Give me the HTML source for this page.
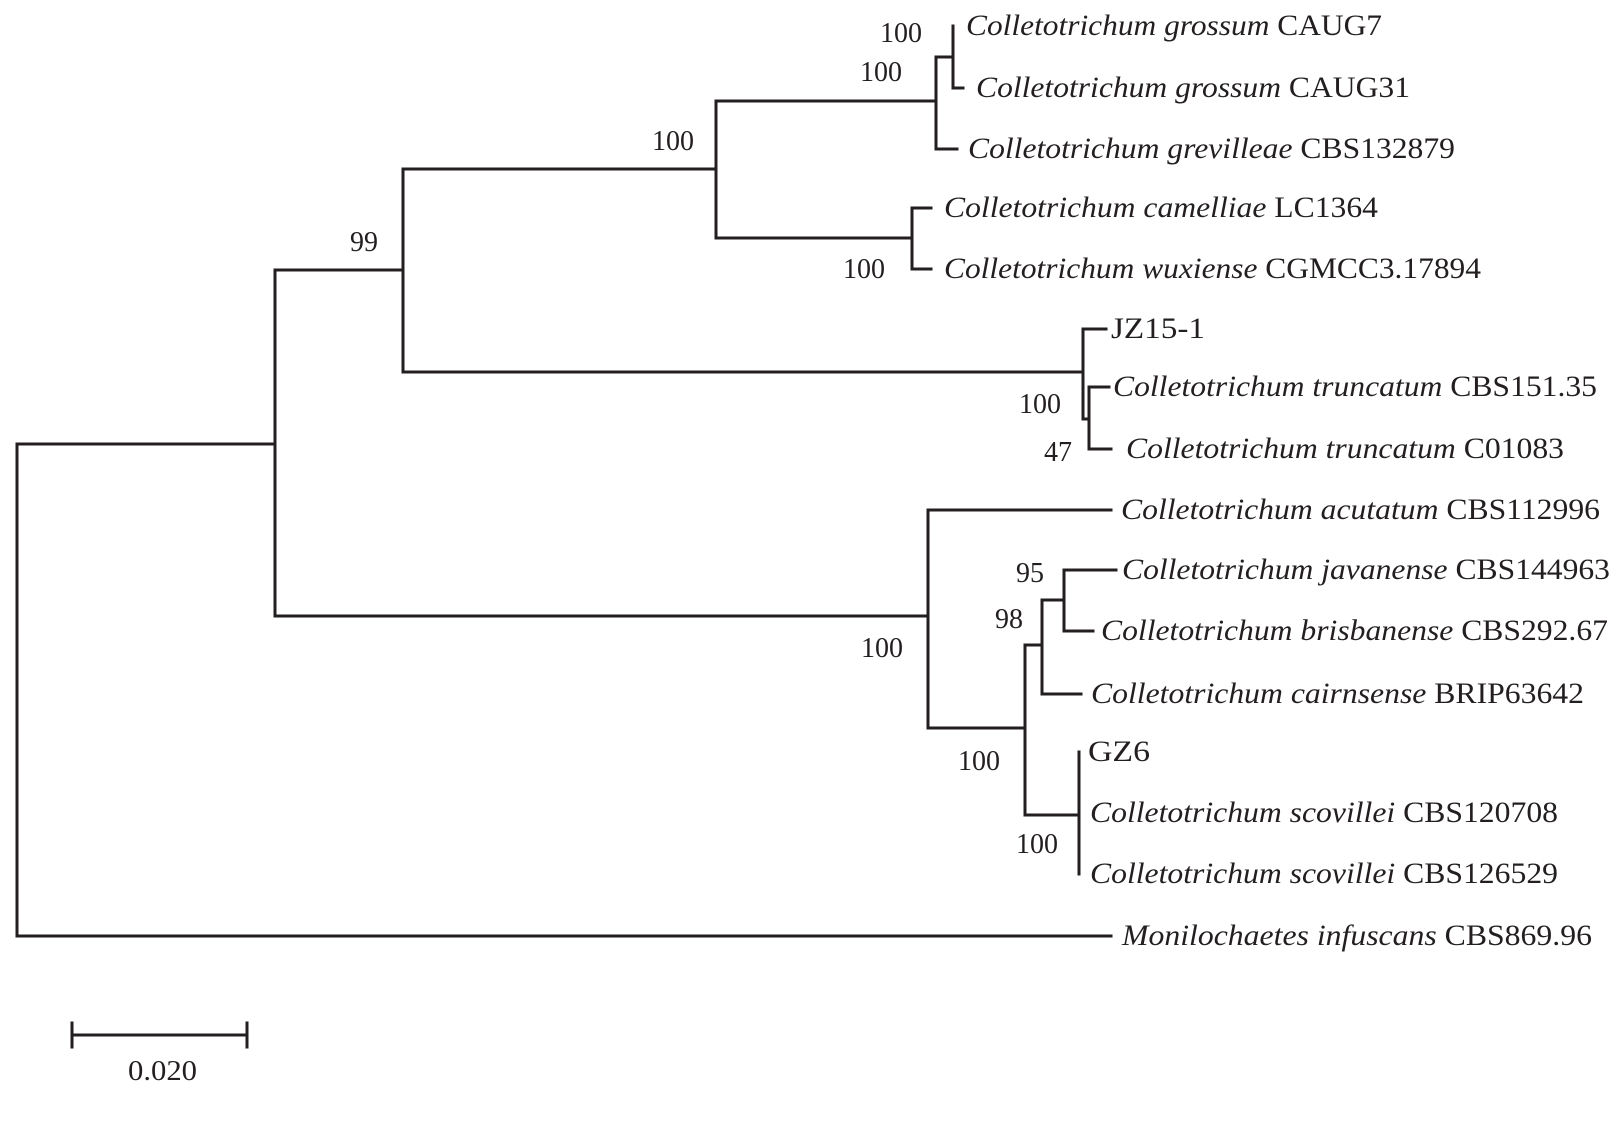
<!DOCTYPE html>
<html><head><meta charset="utf-8"><style>
html,body{margin:0;padding:0;background:#fff;}
svg{display:block;}
text{font-family:"Liberation Serif",serif;fill:#231f20;}
.n{font-size:28px;}
.s{font-size:30px;}
</style></head><body>
<svg width="1623" height="1125" viewBox="0 0 1623 1125" xmlns="http://www.w3.org/2000/svg">
<g stroke="#231f20" stroke-width="3" fill="none" stroke-linecap="square">
<!-- root -->
<path d="M1111 936 H17 V444 H275"/>
<path d="M403 270 H275 V616 H928"/>
<path d="M403 169 V372 H1083 M403 169 H716 V238 H912 M716 169 V101 H936"/>
<!-- grossum group -->
<path d="M953 26 V88 H963 M953 57 H936 V149 H957"/>
<!-- camelliae -->
<path d="M931 208 H912 V269 H931"/>
<!-- JZ -->
<path d="M1106 329 H1083 V419 H1089 M1109 387 H1089 V449 H1111"/>
<!-- acutatum -->
<path d="M1111 510 H928 V728 H1025 M1025 645 V815 M1025 645 H1042 M1042 600 V694 H1081 M1042 600 H1064 M1116 570 H1064 V631 H1093"/>
<path d="M1025 815 H1079 M1079 752 V874"/>
<!-- scale -->
<path d="M72 1035 H247 M72 1023 V1047 M247 1023 V1047"/>
</g>
<g class="n">
<text x="880" y="42" textLength="42" lengthAdjust="spacingAndGlyphs">100</text>
<text x="860" y="81" textLength="42" lengthAdjust="spacingAndGlyphs">100</text>
<text x="652" y="150" textLength="42" lengthAdjust="spacingAndGlyphs">100</text>
<text x="350" y="251" textLength="28" lengthAdjust="spacingAndGlyphs">99</text>
<text x="843" y="278" textLength="42" lengthAdjust="spacingAndGlyphs">100</text>
<text x="1019" y="413" textLength="42" lengthAdjust="spacingAndGlyphs">100</text>
<text x="1044" y="461" textLength="28" lengthAdjust="spacingAndGlyphs">47</text>
<text x="1016" y="582" textLength="28" lengthAdjust="spacingAndGlyphs">95</text>
<text x="995" y="628" textLength="28" lengthAdjust="spacingAndGlyphs">98</text>
<text x="861" y="657" textLength="42" lengthAdjust="spacingAndGlyphs">100</text>
<text x="958" y="770" textLength="42" lengthAdjust="spacingAndGlyphs">100</text>
<text x="1016" y="853" textLength="42" lengthAdjust="spacingAndGlyphs">100</text>
<text x="128" y="1080" textLength="69" lengthAdjust="spacingAndGlyphs">0.020</text>
</g>
<g class="s">
<text x="966" y="35" textLength="416" lengthAdjust="spacingAndGlyphs"><tspan font-style="italic">Colletotrichum grossum</tspan> CAUG7</text>
<text x="976" y="97" textLength="434" lengthAdjust="spacingAndGlyphs"><tspan font-style="italic">Colletotrichum grossum</tspan> CAUG31</text>
<text x="968" y="158" textLength="487" lengthAdjust="spacingAndGlyphs"><tspan font-style="italic">Colletotrichum grevilleae</tspan> CBS132879</text>
<text x="944" y="217" textLength="434" lengthAdjust="spacingAndGlyphs"><tspan font-style="italic">Colletotrichum camelliae</tspan> LC1364</text>
<text x="944" y="278" textLength="537" lengthAdjust="spacingAndGlyphs"><tspan font-style="italic">Colletotrichum wuxiense</tspan> CGMCC3.17894</text>
<text x="1111" y="338" textLength="94" lengthAdjust="spacingAndGlyphs">JZ15-1</text>
<text x="1113" y="396" textLength="484" lengthAdjust="spacingAndGlyphs"><tspan font-style="italic">Colletotrichum truncatum</tspan> CBS151.35</text>
<text x="1126" y="458" textLength="438" lengthAdjust="spacingAndGlyphs"><tspan font-style="italic">Colletotrichum truncatum</tspan> C01083</text>
<text x="1121" y="519" textLength="479" lengthAdjust="spacingAndGlyphs"><tspan font-style="italic">Colletotrichum acutatum</tspan> CBS112996</text>
<text x="1122" y="579" textLength="488" lengthAdjust="spacingAndGlyphs"><tspan font-style="italic">Colletotrichum javanense</tspan> CBS144963</text>
<text x="1101" y="640" textLength="507" lengthAdjust="spacingAndGlyphs"><tspan font-style="italic">Colletotrichum brisbanense</tspan> CBS292.67</text>
<text x="1091" y="703" textLength="493" lengthAdjust="spacingAndGlyphs"><tspan font-style="italic">Colletotrichum cairnsense</tspan> BRIP63642</text>
<text x="1088" y="761" textLength="62" lengthAdjust="spacingAndGlyphs">GZ6</text>
<text x="1090" y="822" textLength="468" lengthAdjust="spacingAndGlyphs"><tspan font-style="italic">Colletotrichum scovillei</tspan> CBS120708</text>
<text x="1090" y="883" textLength="468" lengthAdjust="spacingAndGlyphs"><tspan font-style="italic">Colletotrichum scovillei</tspan> CBS126529</text>
<text x="1122" y="945" textLength="470" lengthAdjust="spacingAndGlyphs"><tspan font-style="italic">Monilochaetes infuscans</tspan> CBS869.96</text>
</g>
</svg>
</body></html>
